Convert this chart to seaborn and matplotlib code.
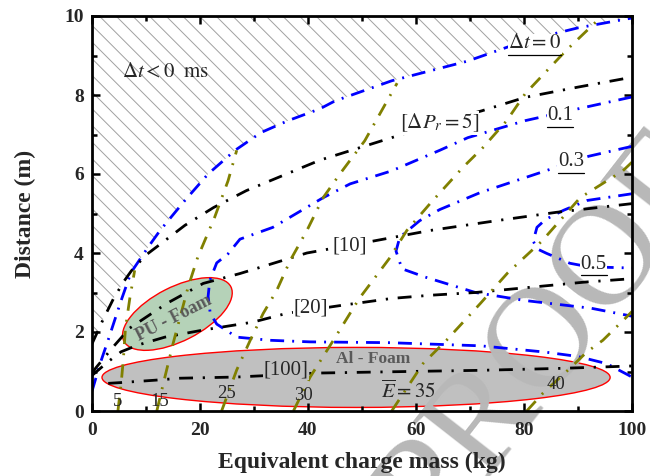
import numpy as np
import pandas as pd
import matplotlib
matplotlib.use("Agg")
import matplotlib.pyplot as plt
import matplotlib.transforms as mtransforms
from matplotlib.patches import Ellipse, Polygon
from matplotlib.lines import Line2D
from matplotlib.ticker import MultipleLocator
import seaborn as sns

# ---------------- data ----------------
# blue: time-difference contours (ordered along each curve)
dt0_x = [0, 1.5, 3, 5.4, 7.2, 10.4, 12.6, 17.2, 21.5, 26.5, 31.3, 36.3, 42.2, 45, 55.5, 69.6, 80.2, 90, 100]
dt0_y = [0.5, 1.2, 1.8, 2.8, 3.5, 4.15, 4.57, 5.33, 6.0, 6.6, 7.05, 7.35, 7.65, 7.85, 8.36, 8.86, 9.37, 9.7, 9.95]
dt01_x = [100, 90, 80.2, 69.6, 64.4, 55.5, 47.8, 42.8, 33.5, 27.4, 25.2, 23.1, 21.8, 21.5, 21.9, 23.1, 26.8, 33, 40.4, 55, 72, 84, 90, 95.3, 100]
dt01_y = [7.95, 7.65, 7.35, 6.92, 6.6, 6.08, 5.75, 5.4, 4.65, 4.35, 3.98, 3.75, 3.3, 2.9, 2.47, 2.2, 1.87, 1.79, 1.75, 1.73, 1.65, 1.49, 1.38, 1.2, 0.86]
dt03_x = [100, 92, 84, 71.9, 64.4, 60.7, 57, 56.3, 57.4, 61.7, 71, 80, 92.5, 100]
dt03_y = [6.7, 6.45, 6.08, 5.53, 5.1, 4.82, 4.4, 4.05, 3.6, 3.39, 3.0, 2.8, 2.6, 2.4]
dt05_x = [100, 91.7, 87.3, 84, 82.4, 81.7, 82.5, 84.2, 88.5, 92, 100]
dt05_y = [5.5, 5.33, 5.08, 4.85, 4.65, 4.3, 4.1, 3.99, 3.74, 3.65, 3.62]

# black: pressure-reduction contours [dPr]
p5_x = [0, 2, 4, 6, 7.3, 10, 12.8, 17.2, 22.5, 28.6, 42.2, 55.5, 63, 72.2, 80.2, 90, 100]
p5_y = [1.7, 2.3, 2.85, 3.3, 3.55, 3.95, 4.24, 4.7, 5.15, 5.58, 6.35, 6.92, 7.25, 7.6, 7.94, 8.2, 8.45]
p10_x = [0, 0.7, 3.9, 7, 13.8, 20.6, 27.4, 39.8, 52, 62.6, 75, 86, 100]
p10_y = [0.95, 1.09, 1.62, 2.1, 2.72, 3.23, 3.48, 4.0, 4.3, 4.57, 4.82, 5.03, 5.25]
p20_x = [0, 3, 5.4, 8.5, 13.5, 20.6, 29.8, 36, 46.5, 55.5, 62.6, 71, 81, 91, 100]
p20_y = [0.9, 1.25, 1.5, 1.67, 1.87, 2.05, 2.25, 2.47, 2.68, 2.85, 2.93, 3.0, 3.13, 3.26, 3.35]
p100_x = [3, 5.4, 11.7, 16.3, 26.8, 41.6, 54, 72, 87, 100]
p100_y = [0.7, 0.72, 0.78, 0.83, 0.86, 0.96, 0.99, 1.03, 1.08, 1.14]

# olive: energy contours E-bar
e5_x = [4.8, 5.4, 5.8, 6.2, 7, 7.9]
e5_y = [0, 0.7, 1.3, 2.1, 2.85, 3.56]
e15_x = [12, 13.5, 15, 17.8, 19.6, 22.7, 25.2, 26.8]
e15_y = [0, 0.86, 1.7, 3.14, 3.9, 4.9, 5.83, 6.6]
e25_x = [24, 26.8, 29.3, 31.7, 34.2, 36.7, 39.8, 42.8, 45.9, 50.5, 56.5]
e25_y = [0, 1.04, 1.79, 2.47, 3.05, 3.81, 4.57, 5.4, 6.0, 6.84, 8.3]
e30_x = [37.3, 40.4, 44.7, 49.5, 55, 58.3, 62.6, 68.7, 72.4, 76.8, 80.2, 87.6, 93.7]
e30_y = [0, 0.86, 1.79, 2.85, 3.85, 4.57, 5.25, 6.17, 6.67, 7.35, 8.03, 9.1, 9.9]
e35_x = [55.5, 61.3, 65.7, 71.9, 77, 83.3, 90.4, 98.3, 100]
e35_y = [0, 1.2, 1.8, 2.72, 3.5, 4.3, 5.4, 6.08, 6.3]
e40_x = [80.5, 83.5, 88.5, 91.6, 94.6, 99, 100]
e40_y = [0, 0.45, 1.08, 1.49, 1.79, 2.38, 2.52]

x_ticks = [0, 20, 40, 60, 80, 100]
y_ticks = [0, 2, 4, 6, 8, 10]

# ---------------- style ----------------
sns.set_theme(style="ticks")
plt.rcParams['font.family'] = ['Liberation Serif', 'DejaVu Serif']
plt.rcParams['mathtext.fontset'] = 'stix'
plt.rcParams['hatch.linewidth'] = 0.7

fig = plt.figure(figsize=(6.5, 4.76), dpi=100)
ax = fig.add_axes([92 / 650, 65 / 476, 540 / 650, 395 / 476])
ax.set_xlim(0, 100)
ax.set_ylim(0, 10)

# hatched region dt < 0 (above dt=0 and dPr=5 boundaries)
bx = [x for x in dt0_x if x >= 7.2][::-1] + [x for x in p5_x if x < 7.2][::-1]
by = [y for x, y in zip(dt0_x, dt0_y) if x >= 7.2][::-1] + [y for x, y in zip(p5_x, p5_y) if x < 7.2][::-1]
verts = [(0, 10), (100, 10)] + list(zip(bx, by)) + [(0, 10)]
ax.add_patch(Polygon(verts, closed=True, facecolor='white', edgecolor='#a0a0a0',
                     hatch='\\\\', linewidth=0, zorder=0.5))

# foam ellipses
pix = mtransforms.Affine2D().scale(1 / 5.4, 1 / 39.5) + ax.transData
ax.add_patch(Ellipse((85.4, 97), width=120, height=54, angle=27, transform=pix,
                     facecolor='#b5d2b8', edgecolor='#ff0000', linewidth=1.0, zorder=1))
ax.add_patch(Ellipse((48.9, 0.85), width=94.1, height=1.52,
                     facecolor='#c0c0c0', edgecolor='#ff0000', linewidth=1.0, zorder=1))

# watermark (extends past the frame, as in the reference)
ax.text(84.8, 1.85, 'PROOF', fontsize=104, color='#b8b8b8', rotation=52,
        ha='center', va='center', rotation_mode='anchor', clip_on=False, zorder=1.4,
        family=['Liberation Serif'])


def family_df(curves):
    rows = []
    for name, xs, ys in curves:
        for i, (xv, yv) in enumerate(zip(xs, ys)):
            rows.append((name, i, xv, yv))
    return pd.DataFrame(rows, columns=['curve', 'order', 'x', 'y'])


blue_df = family_df([('0', dt0_x, dt0_y), ('0.1', dt01_x, dt01_y),
                     ('0.3', dt03_x, dt03_y), ('0.5', dt05_x, dt05_y)])
black_df = family_df([('5', p5_x, p5_y), ('10', p10_x, p10_y),
                      ('20', p20_x, p20_y), ('100', p100_x, p100_y)])
olive_df = family_df([('5', e5_x, e5_y), ('15', e15_x, e15_y), ('25', e25_x, e25_y),
                      ('30', e30_x, e30_y), ('35', e35_x, e35_y), ('40', e40_x, e40_y)])

sns.lineplot(data=blue_df, x='x', y='y', units='curve', estimator=None, sort=False,
             color='#0000ff', linewidth=2.0, linestyle=(0, (5, 2.9, 0.7, 2.9)),
             legend=False, ax=ax, zorder=2)
sns.lineplot(data=black_df, x='x', y='y', units='curve', estimator=None, sort=False,
             color='black', linewidth=2.0, linestyle=(0, (5, 3.5, 0.8, 3.5)),
             legend=False, ax=ax, zorder=2.1)
sns.lineplot(data=olive_df, x='x', y='y', units='curve', estimator=None, sort=False,
             color='#808000', linewidth=2.0, linestyle=(0, (4.8, 3.3, 0.7, 3.3)),
             legend=False, ax=ax, zorder=2.2)

# ---------------- axes styling ----------------
ax.xaxis.set_major_locator(MultipleLocator(20))
ax.xaxis.set_minor_locator(MultipleLocator(10))
ax.yaxis.set_major_locator(MultipleLocator(2))
ax.yaxis.set_minor_locator(MultipleLocator(1))
ax.set_xticks(x_ticks)
ax.set_yticks(y_ticks)
ax.tick_params(which='both', direction='in', top=True, right=True, width=1.8, color='black')
ax.tick_params(which='major', length=6)
ax.tick_params(which='minor', length=3.5)
ax.tick_params(axis='x', which='major', pad=8)
ax.tick_params(axis='y', which='major', pad=6)
for lab in ax.get_xticklabels() + ax.get_yticklabels():
    lab.set_fontweight('bold')
    lab.set_fontsize(14)
for sp in ax.spines.values():
    sp.set_linewidth(2.0)
    sp.set_color('black')
    sp.set_zorder(6)
ax.xaxis.set_zorder(1.6)
ax.yaxis.set_zorder(1.6)
ax.set_xlabel('Equivalent charge mass (kg)', fontsize=17, fontweight='bold', labelpad=9)
ax.set_ylabel('Distance (m)', fontsize=17, fontweight='bold', labelpad=20)

# ---------------- annotations ----------------
white = dict(facecolor='white', edgecolor='none', pad=0.5)
grey = dict(facecolor='#c0c0c0', edgecolor='none', pad=0.5)
ax.text(5.6, 8.56, r'$\Delta t < 0\ \ \mathrm{ms}$', fontsize=15, ha='left', va='center', zorder=5)
t_dt0 = ax.text(82.0, 9.3, r'$\Delta t = 0$', fontsize=15, ha='center', va='center', zorder=5, bbox=white)
t_01 = ax.text(86.7, 7.47, '0.1', fontsize=15, ha='center', va='center', zorder=5, bbox=white)
t_03 = ax.text(88.7, 6.31, '0.3', fontsize=15, ha='center', va='center', zorder=5, bbox=white)
t_05 = ax.text(92.9, 3.71, '0.5', fontsize=15, ha='center', va='center', zorder=5, bbox=white)
ax.text(64.3, 7.3, r'$\left[\Delta P_r = 5\right]$', fontsize=15, ha='center', va='center', zorder=5, bbox=white)
ax.text(47.8, 4.17, '[10]', fontsize=15, ha='center', va='center', zorder=5, bbox=white)
ax.text(40.6, 2.6, '[20]', fontsize=15, ha='center', va='center', zorder=5, bbox=white)
ax.text(35.9, 1.03, '[100]', fontsize=15, ha='center', va='center', zorder=5, bbox=grey)
ax.text(4.8, 0.25, '5', fontsize=13.5, ha='center', va='center', zorder=5)
ax.text(12.6, 0.25, '15', fontsize=13.5, ha='center', va='center', zorder=5)
ax.text(25.0, 0.45, '25', fontsize=13.5, ha='center', va='center', zorder=5)
ax.text(39.1, 0.4, '30', fontsize=13.5, ha='center', va='center', zorder=5)
ax.text(58.5, 0.5, r'$\overline{E} = 35$', fontsize=15, ha='center', va='center', zorder=5)
ax.text(85.9, 0.68, '40', fontsize=13.5, ha='center', va='center', zorder=5)
ax.text(15.2, 2.35, 'PU - Foam', fontsize=13, fontweight='bold', color='#5a5a5a',
        rotation=27, ha='center', va='center', rotation_mode='anchor', zorder=5)
ax.text(52.1, 1.31, 'Al - Foam', fontsize=12.5, fontweight='bold', color='#5a5a5a',
        ha='center', va='center', zorder=5)

# underline the dt labels
fig.canvas.draw()
inv = fig.transFigure.inverted()
for t in (t_dt0, t_01, t_03, t_05):
    bb = t.get_window_extent().transformed(inv)
    y0 = bb.y0 - 1.5 / 476
    fig.add_artist(Line2D([bb.x0, bb.x1], [y0, y0], color='black', linewidth=0.9,
                          transform=fig.transFigure, zorder=7))

fig.savefig('out.png', dpi=100)
